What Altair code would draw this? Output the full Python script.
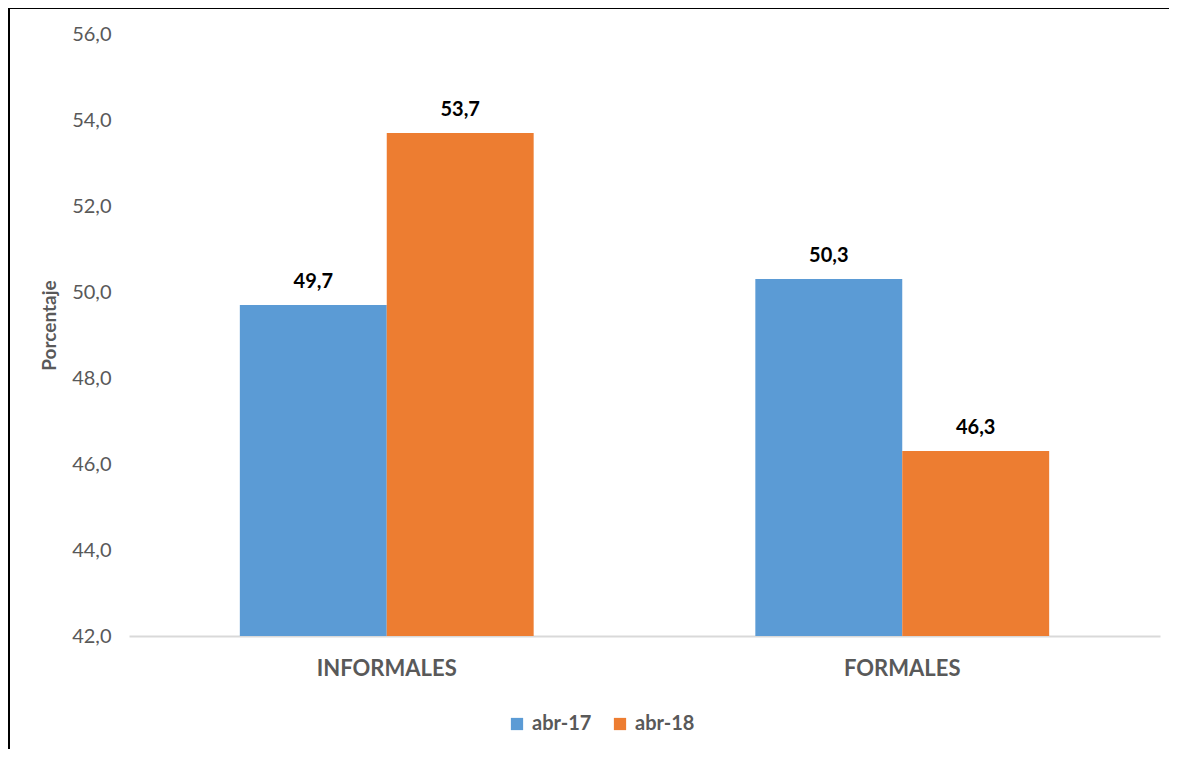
import altair as alt
import pandas as pd

categories = ["INFORMALES", "FORMALES"]
series = ["abr-17", "abr-18"]
values_abr17 = [49.7, 50.3]
values_abr18 = [53.7, 46.3]

rows = []
for i, c in enumerate(categories):
    rows.append({"cat": c, "serie": series[0], "val": values_abr17[i]})
    rows.append({"cat": c, "serie": series[1], "val": values_abr18[i]})
df = pd.DataFrame(rows)
df["lab"] = df["val"].map(lambda v: f"{v:.1f}".replace(".", ","))

W, H = 1031, 602
FONT = "Lato"
GRAY = "#595959"

x_enc = alt.X("cat:N", sort=categories,
              scale=alt.Scale(paddingInner=0.43, paddingOuter=0.215),
              axis=alt.Axis(title=None, labelAngle=0, labelFont=FONT, labelFontSize=22,
                            labelFontWeight="bold", labelColor=GRAY, labelPadding=22,
                            ticks=False, domainColor="#D9D9D9", domainWidth=2))
y_enc = alt.Y("val:Q", scale=alt.Scale(domain=[42, 56], nice=False, zero=False),
              axis=alt.Axis(title="Porcentaje", values=[42, 44, 46, 48, 50, 52, 54, 56],
                            labelExpr="replace(format(datum.value, '.1f'), '.', ',')",
                            labelFont=FONT, labelFontSize=20, labelColor=GRAY,
                            labelPadding=18, ticks=False, domain=False, grid=False,
                            titleFont=FONT, titleFontSize=19, titleFontWeight="bold",
                            titleColor=GRAY, titleAngle=-90, titleAlign="center",
                            titleBaseline="bottom", titleX=-70, titleY=291))
xo = alt.XOffset("serie:N", sort=series)
color = alt.Color("serie:N", sort=series,
                  scale=alt.Scale(domain=series, range=["#5B9BD5", "#ED7D31"]),
                  legend=alt.Legend(title=None, orient="none", direction="horizontal",
                                    legendX=378, legendY=680, symbolType="square",
                                    symbolSize=150, symbolStrokeWidth=0,
                                    labelFont=FONT, labelFontSize=20, labelFontWeight="bold",
                                    labelColor=GRAY, columnPadding=18, symbolOffset=0,
                                    labelOffset=5))

base = alt.Chart(df)
bars = base.mark_bar(clip=True).encode(x=x_enc, y=y_enc, xOffset=xo, color=color)
text = base.mark_text(font=FONT, fontSize=20, fontWeight="bold", color="black",
                      baseline="alphabetic", dy=-17).encode(
    x=alt.X("cat:N", sort=categories), y="val:Q", xOffset=xo, text="lab:N")

frame_df = pd.DataFrame({"a": [0]})
top_rule = alt.Chart(frame_df).mark_rule(color="black", strokeWidth=2).encode(
    x=alt.value(-121), x2=alt.value(1045), y=alt.value(-26))
left_rule = alt.Chart(frame_df).mark_rule(color="black", strokeWidth=2).encode(
    x=alt.value(-120), y=alt.value(-27), y2=alt.value(720))

chart = alt.layer(bars, text, top_rule, left_rule).properties(
    width=W, height=H,
    autosize=alt.AutoSizeParams(type="none"),
    padding={"left": 121, "top": 26, "right": 9, "bottom": 113},
    background="white",
).configure_view(stroke=None)

chart.save("out.html", embed_options={"renderer": "svg", "actions": False})
